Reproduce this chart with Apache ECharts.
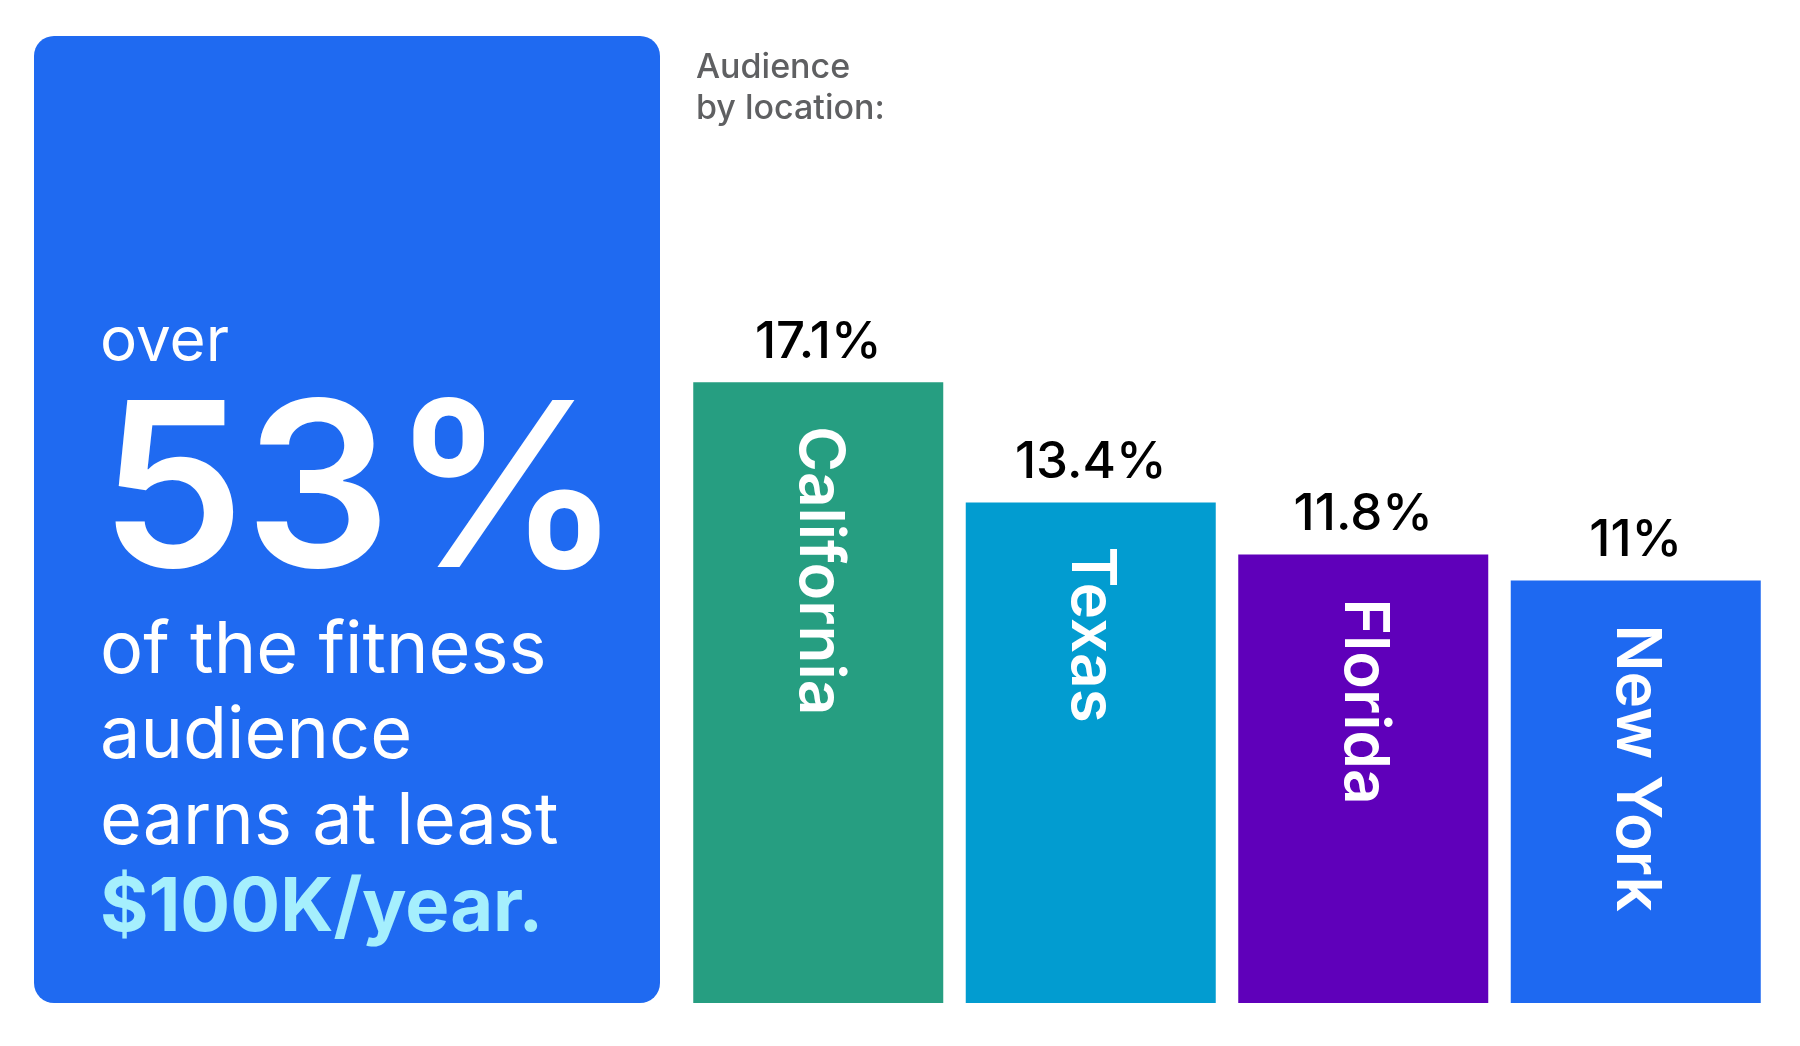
<!DOCTYPE html>
<html>
<head>
<meta charset="utf-8">
<title>Audience by location</title>
<script src="https://cdn.jsdelivr.net/npm/echarts@6/dist/echarts.min.js"></script>
<style>
html, body { margin: 0; padding: 0; background: #fff; }
#chart { width: 1800px; height: 1046px; }
</style>
</head>
<body>
<div id="chart"></div>
<script>
// chart data
var states = ['California', 'Texas', 'Florida', 'New York'];
var shares = [17.1, 13.4, 11.8, 11];
var barColors = ['#269e81', '#029cd0', '#5f00ba', '#1e69f1'];

// left panel copy
var panelLines = ['over', '53%', 'of the fitness', 'audience', 'earns at least', '$100K/year.'];

var font = 'Inter, "Noto Sans", sans-serif';

var chart = echarts.init(document.getElementById('chart'));

function panelText(text, baseline, size, weight, color) {
    return {
        type: 'text',
        style: {
            x: 100,
            y: baseline - size * 0.35,
            text: text,
            fontFamily: font,
            fontSize: size,
            fontWeight: weight,
            fill: color,
            verticalAlign: 'middle'
        },
        silent: true
    };
}

var option = {
    backgroundColor: '#fff',
    animation: false,
    title: {
        text: 'Audience\nby location:',
        left: 691,
        top: 42,
        textStyle: {
            fontFamily: font,
            fontSize: 34,
            fontWeight: 500,
            color: '#5f6062',
            lineHeight: 41
        }
    },
    grid: {
        left: 682,
        right: 28,
        top: 288,
        bottom: 43
    },
    xAxis: {
        type: 'category',
        data: states,
        show: false
    },
    yAxis: {
        // the picture's bars start a little below zero
        type: 'value',
        min: -2,
        max: 20,
        startValue: -2,
        show: false
    },
    graphic: [
        {
            type: 'rect',
            shape: { x: 34, y: 36, width: 626, height: 967, r: 20 },
            style: { fill: '#1f6af1' },
            silent: true
        },
        panelText(panelLines[0], 364, 62, 400, '#fff'),
        panelText(panelLines[1], 578, 230, 600, '#fff'),
        panelText(panelLines[2], 677, 72, 400, '#fff'),
        panelText(panelLines[3], 762, 72, 400, '#fff'),
        panelText(panelLines[4], 848, 72, 400, '#fff'),
        panelText(panelLines[5], 935, 74, 700, '#a5effd')
    ],
    series: [
        {
            type: 'bar',
            data: shares.map(function (v, i) {
                return { value: v, itemStyle: { color: barColors[i] } };
            }),
            barWidth: 250,
            label: {
                show: true,
                position: 'top',
                distance: 14,
                formatter: '{c}%',
                fontFamily: font,
                fontSize: 51,
                fontWeight: 500,
                color: '#000'
            }
        },
        {
            // transparent overlay carrying the state names
            type: 'bar',
            data: shares,
            barWidth: 250,
            barGap: '-100%',
            silent: true,
            itemStyle: { color: 'rgba(0,0,0,0)' },
            label: {
                show: true,
                position: 'insideTop',
                distance: 44,
                rotate: -90,
                align: 'left',
                verticalAlign: 'middle',
                formatter: function (p) { return states[p.dataIndex]; },
                fontFamily: font,
                fontSize: 62,
                fontWeight: 600,
                color: '#fff'
            }
        }
    ]
};

chart.setOption(option, true);
</script>
</body>
</html>
